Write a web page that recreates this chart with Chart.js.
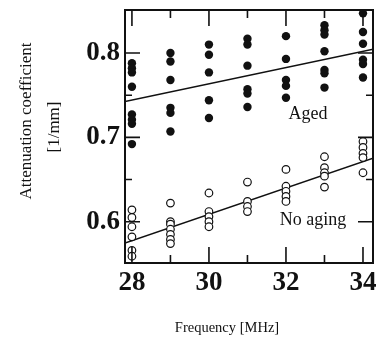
<!DOCTYPE html>
<html><head><meta charset="utf-8">
<script src="https://cdn.jsdelivr.net/npm/chart.js@4/dist/chart.umd.min.js"></script>
<style>html,body{margin:0;padding:0;background:#fff}</style>
</head><body>
<canvas id="c" width="385" height="339"></canvas>
<script>
// ---- data ----
const agedFreq  = [28,28,28,28,28,28,28,28, 29,29,29,29,29,29, 30,30,30,30,30, 31,31,31,31,31,31, 32,32,32,32,32, 33,33,33,33,33,33,33, 34,34,34,34,34,34];
const agedAtten = [0.788,0.782,0.777,0.760,0.727,0.721,0.716,0.692,
                   0.800,0.790,0.768,0.735,0.729,0.707,
                   0.810,0.798,0.777,0.744,0.723,
                   0.817,0.810,0.785,0.757,0.752,0.736,
                   0.820,0.793,0.768,0.761,0.747,
                   0.833,0.827,0.822,0.802,0.780,0.776,0.759,
                   0.847,0.825,0.811,0.792,0.787,0.771];
const noAgingFreq  = [28,28,28,28,28,28, 29,29,29,29,29,29,29, 30,30,30,30,30, 31,31,31,31, 32,32,32,32,32, 33,33,33,33,33, 34,34,34,34,34];
const noAgingAtten = [0.614,0.605,0.594,0.582,0.566,0.559,
                      0.622,0.600,0.597,0.591,0.585,0.579,0.574,
                      0.634,0.612,0.606,0.600,0.594,
                      0.647,0.624,0.618,0.612,
                      0.662,0.642,0.636,0.630,0.624,
                      0.677,0.664,0.658,0.654,0.641,
                      0.695,0.688,0.681,0.676,0.658];
const agedFitX = [27.82, 34.26];
const agedFitY = [0.7424, 0.8044];
const noAgingFitX = [27.82, 34.26];
const noAgingFitY = [0.5748, 0.6754];
const xTickValues = [28,29,30,31,32,33,34];
const xTickLabels = ['28','','30','','32','','34'];
const yTickValues = [0.6,0.65,0.7,0.75,0.8];
const yTickLabels = ['0.6','','0.7','','0.8'];
const xTitle = 'Frequency [MHz]';
const yTitle = ['Attenuation coefficient','[1/mm]'];
const seriesNames = ['Aged','No aging'];

const toPts = (xs, ys) => xs.map((x,i)=>({x, y: ys[i]}));
const INK = '#111';
const SERIF = '"Liberation Serif", "Times New Roman", serif';

const framePlugin = {
  id: 'frame',
  afterDatasetsDraw(chart) {
    const {ctx, chartArea: a, scales: {x, y}} = chart;
    ctx.save();
    ctx.strokeStyle = INK; ctx.lineWidth = 2; ctx.lineCap = 'butt';
    ctx.strokeRect(a.left, a.top, a.right - a.left, a.bottom - a.top);
    ctx.lineWidth = 1.6;
    xTickValues.forEach((v, i) => {
      const px = x.getPixelForValue(v);
      const len = xTickLabels[i] ? 16 : 8;
      ctx.beginPath();
      ctx.moveTo(px, a.bottom); ctx.lineTo(px, a.bottom - len);
      ctx.moveTo(px, a.top); ctx.lineTo(px, a.top + len);
      ctx.stroke();
    });
    yTickValues.forEach((v, i) => {
      const py = y.getPixelForValue(v);
      const len = yTickLabels[i] ? 15 : 7;
      ctx.beginPath();
      ctx.moveTo(a.left, py); ctx.lineTo(a.left + len, py);
      ctx.moveTo(a.right, py); ctx.lineTo(a.right - len, py);
      ctx.stroke();
    });
    ctx.fillStyle = INK;
    ctx.textAlign = 'center'; ctx.textBaseline = 'middle';
    // series annotations
    ctx.font = '18px ' + SERIF;
    ctx.fillText(seriesNames[0], x.getPixelForValue(32.57), y.getPixelForValue(0.7276));
    ctx.fillText(seriesNames[1], x.getPixelForValue(32.7), y.getPixelForValue(0.6019));
    // x title
    ctx.font = '14.5px ' + SERIF;
    ctx.fillText(xTitle, 227, 328);
    // y title
    ctx.font = '17px ' + SERIF;
    ctx.save();
    ctx.translate(27, 121); ctx.rotate(-Math.PI/2);
    ctx.fillText(yTitle[0], 0, 0);
    ctx.restore();
    ctx.save();
    ctx.translate(55, 127); ctx.rotate(-Math.PI/2);
    ctx.fillText(yTitle[1], 0, 0);
    ctx.restore();
    ctx.restore();
  }
};

new Chart(document.getElementById('c'), {
  type: 'scatter',
  data: {
    datasets: [
      { label: seriesNames[0], data: toPts(agedFreq, agedAtten), backgroundColor: INK, borderColor: INK, pointRadius: 4.2, pointBorderWidth: 0, order: 1 },
      { label: seriesNames[1], data: toPts(noAgingFreq, noAgingAtten), backgroundColor: '#fff', borderColor: INK, pointRadius: 3.8, pointBorderWidth: 1.2, order: 1 },
      { label: 'Aged fit', data: toPts(agedFitX, agedFitY), showLine: true, borderColor: INK, borderWidth: 1.5, pointRadius: 0, order: 2 },
      { label: 'No aging fit', data: toPts(noAgingFitX, noAgingFitY), showLine: true, borderColor: INK, borderWidth: 1.5, pointRadius: 0, order: 2 }
    ]
  },
  options: {
    responsive: false, animation: false, devicePixelRatio: 1,
    layout: { padding: { top: 10, right: 12, left: 0, bottom: 0 } },
    plugins: { legend: { display: false }, tooltip: { enabled: false } },
    scales: {
      x: {
        type: 'linear', min: 27.82, max: 34.26,
        afterBuildTicks: s => { s.ticks = xTickValues.map(v => ({value: v})); },
        afterFit: s => { s.height = 76; s.paddingLeft = 0; s.paddingRight = 0; },
        grid: { display: false, drawTicks: false },
        border: { display: false },
        ticks: { autoSkip: false, maxRotation: 0, padding: 4, color: INK,
                 font: { family: SERIF, size: 27, weight: 'bold' },
                 callback: (v, i) => xTickLabels[i] },
        title: { display: false, text: xTitle }
      },
      y: {
        type: 'linear', min: 0.551, max: 0.851,
        afterBuildTicks: s => { s.ticks = yTickValues.map(v => ({value: v})); },
        afterFit: s => { s.width = 125; s.paddingTop = 0; s.paddingBottom = 0; },
        grid: { display: false, drawTicks: false },
        border: { display: false },
        ticks: { autoSkip: false, padding: 5, color: INK,
                 font: { family: SERIF, size: 27, weight: 'bold' },
                 callback: (v, i) => yTickLabels[i] },
        title: { display: false, text: yTitle }
      }
    }
  },
  plugins: [framePlugin]
});
</script>
</body></html>
